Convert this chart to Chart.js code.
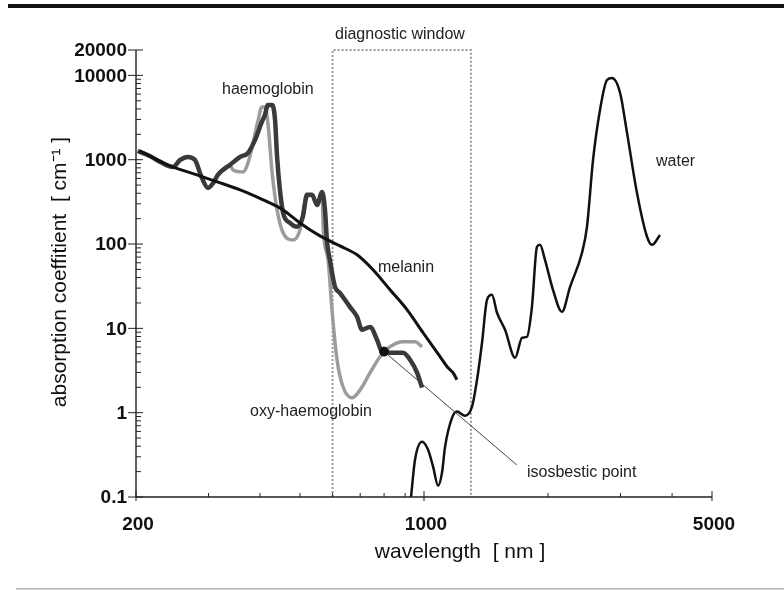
<!DOCTYPE html>
<html>
<head>
<meta charset="utf-8">
<script src="https://cdn.jsdelivr.net/npm/chart.js@4"></script>
<style>
  html, body { margin: 0; padding: 0; background: #fff; }
  canvas { display: block; }
</style>
</head>
<body>
<canvas id="spectrum" width="784" height="590"></canvas>
<script>
// absorption spectra (wavelength in nm, absorption in cm^-1)
const melaninNm  = [204, 242, 281, 315, 358, 407, 455, 500, 559, 625, 688, 752, 827, 910, 995, 1094, 1138, 1176, 1202];
const melaninAbs = [1270, 845, 661, 546, 439, 334, 254, 178, 125, 95, 74.5, 49.5, 28.7, 16.6, 8.87, 4.61, 3.51, 2.98, 2.46];

const haemoNm  = [202, 216, 229, 246, 256, 267, 278, 289, 299, 308, 316, 338, 358, 374, 389, 404, 411, 418, 428, 435, 440, 447, 455, 473, 492, 508, 520, 535, 550, 566, 575, 582, 591, 608, 625, 661, 688, 707, 740, 769, 791, 827, 889, 925, 962, 989];
const haemoAbs = [1270, 1109, 942, 822, 994, 1080, 994, 609, 463, 531, 661, 867, 1080, 1203, 1717, 2805, 3396, 4460, 4460, 2963, 1080, 439, 234, 178, 160, 210, 383, 383, 291, 415, 254, 103, 65, 31.1, 26.4, 18, 13.7, 9.62, 10.4, 7.33, 5.28, 5.14, 5.14, 4.25, 2.98, 1.98];

const oxyNm  = [202, 216, 229, 246, 256, 267, 278, 289, 299, 308, 316, 338, 344, 364, 374, 396, 404, 411, 418, 428, 440, 455, 481, 500, 514, 529, 535, 550, 566, 569, 585, 598, 615, 636, 669, 700, 740, 782, 827, 889, 951, 989];
const oxyAbs = [1270, 1109, 942, 822, 994, 1080, 994, 609, 463, 531, 661, 867, 757, 717, 916, 2963, 4225, 4225, 2729, 698, 254, 136, 112, 147, 308, 383, 383, 291, 415, 160, 65, 16.6, 4.25, 2.03, 1.5, 1.87, 2.98, 4.61, 6.05, 6.94, 6.94, 6.05];

const waterNm  = [930, 951, 989, 1023, 1052, 1082, 1106, 1125, 1170, 1202, 1258, 1308, 1345, 1383, 1422, 1462, 1504, 1573, 1664, 1730, 1778, 1828, 1880, 1912, 1966, 2056, 2162, 2262, 2418, 2486, 2572, 2674, 2780, 2860, 2992, 3110, 3288, 3478, 3576, 3740];
const waterAbs = [0.1, 0.277, 0.453, 0.364, 0.229, 0.136, 0.195, 0.396, 0.873, 1.03, 0.921, 1.18, 2.46, 6.75, 21.8, 25, 15.3, 9.62, 4.48, 7.74, 7.95, 18, 92.7, 97.9, 65, 28.7, 15.7, 31.1, 78.7, 160, 995, 3890, 8810, 9310, 6190, 2080, 404, 122, 97.9, 128];

// diagnostic window box and isosbestic point
const windowNm  = [600, 600, 1300, 1300];
const windowAbs = [0.1, 20000, 20000, 0.1];
const isoNm  = [800];
const isoAbs = [5.3];
const isoLeaderNm  = [800, 1680];
const isoLeaderAbs = [5.3, 0.24];

// axis ticks
const xMajor = [200, 1000, 5000];
const xMinor = [300, 400, 500, 600, 700, 800, 900, 2000, 3000, 4000];
const yMajor = [0.1, 1, 10, 100, 1000, 10000, 20000];
const yMajorLabels = ['0.1', '1', '10', '100', '1000', '10000', '20000'];

function pts(xs, ys) {
    return xs.map((v, i) => ({ x: v, y: ys[i] }));
}

const FONT = "'Liberation Sans', Arial, sans-serif";

const axisPlugin = {
    id: 'axisPlugin',
    afterDatasetsDraw(chart) {
        const ctx = chart.ctx;
        const x = chart.scales.x, y = chart.scales.y;
        const left = x.getPixelForValue(200), right = x.getPixelForValue(5000);
        const bottom = y.getPixelForValue(0.1), top = y.getPixelForValue(20000);
        ctx.save();

        // page rules
        ctx.fillStyle = '#111';
        ctx.fillRect(8, 4, 776, 4);
        ctx.fillStyle = '#b0b0b0';
        ctx.fillRect(16, 588, 768, 1.5);

        // axis lines
        ctx.strokeStyle = '#222';
        ctx.lineWidth = 1.4;
        ctx.beginPath();
        ctx.moveTo(left, top);
        ctx.lineTo(left, bottom);
        ctx.lineTo(right, bottom);
        ctx.stroke();

        ctx.lineWidth = 1;
        ctx.beginPath();
        // y ticks
        yMajor.forEach(v => {
            const py = y.getPixelForValue(v);
            ctx.moveTo(left - 8, py); ctx.lineTo(left + 7, py);
        });
        for (let d = 0.1; d < 10000; d *= 10) {
            for (let k = 2; k <= 9; k++) {
                const py = y.getPixelForValue(d * k);
                ctx.moveTo(left, py); ctx.lineTo(left + 5, py);
            }
        }
        // x ticks
        xMajor.forEach(v => {
            const px = x.getPixelForValue(v);
            ctx.moveTo(px, bottom - 6); ctx.lineTo(px, bottom + 4);
        });
        xMinor.forEach(v => {
            const px = x.getPixelForValue(v);
            ctx.moveTo(px, bottom); ctx.lineTo(px, bottom - 4);
        });
        ctx.stroke();

        // tick labels
        ctx.fillStyle = '#111';
        ctx.font = 'bold 19px ' + FONT;
        ctx.textAlign = 'right';
        ctx.textBaseline = 'middle';
        yMajor.forEach((v, i) => {
            ctx.fillText(yMajorLabels[i], left - 9, y.getPixelForValue(v) + 1);
        });
        ctx.textAlign = 'center';
        xMajor.forEach(v => {
            ctx.fillText(String(v), x.getPixelForValue(v) + 2, bottom + 28);
        });

        // axis titles
        ctx.font = '21px ' + FONT;
        ctx.fillText('wavelength  [ nm ]', 460, 552);
        ctx.save();
        ctx.translate(60, 272);
        ctx.rotate(-Math.PI / 2);
        ctx.fillText('absorption coeffitient  [ cm\u207B\u00B9 ]', 0, 0);
        ctx.restore();

        // annotations
        ctx.font = '16px ' + FONT;
        ctx.fillStyle = '#222';
        ctx.textAlign = 'left';
        ctx.fillText('diagnostic window', 335, 35);
        ctx.fillText('haemoglobin', 222, 90);
        ctx.fillText('melanin', 378, 268);
        ctx.fillText('water', 656, 162);
        ctx.fillText('oxy-haemoglobin', 250, 412);
        ctx.fillText('isosbestic point', 527, 473);

        ctx.restore();
    }
};

new Chart(document.getElementById('spectrum').getContext('2d'), {
    type: 'line',
    data: {
        datasets: [
            {
                label: 'diagnostic window',
                data: pts(windowNm, windowAbs),
                borderColor: '#9a9a9a',
                borderWidth: 2,
                borderDash: [2, 2],
                tension: 0,
                clip: 4,
                order: 6
            },
            {
                label: 'oxy-haemoglobin',
                data: pts(oxyNm, oxyAbs),
                borderColor: '#9c9c9c',
                borderWidth: 3.5,
                cubicInterpolationMode: 'monotone',
                order: 5
            },
            {
                label: 'haemoglobin',
                data: pts(haemoNm, haemoAbs),
                borderColor: '#3a3a3a',
                borderWidth: 4.5,
                cubicInterpolationMode: 'monotone',
                order: 4
            },
            {
                label: 'melanin',
                data: pts(melaninNm, melaninAbs),
                borderColor: '#111',
                borderWidth: 3,
                cubicInterpolationMode: 'monotone',
                order: 3
            },
            {
                label: 'water',
                data: pts(waterNm, waterAbs),
                borderColor: '#111',
                borderWidth: 2.5,
                cubicInterpolationMode: 'monotone',
                order: 2
            },
            {
                label: 'leader',
                data: pts(isoLeaderNm, isoLeaderAbs),
                borderColor: '#444',
                borderWidth: 1,
                tension: 0,
                order: 1
            },
            {
                label: 'isosbestic point',
                data: pts(isoNm, isoAbs),
                showLine: false,
                pointRadius: 4.5,
                pointBackgroundColor: '#111',
                pointBorderColor: '#111',
                order: 0
            }
        ]
    },
    options: {
        responsive: false,
        animation: false,
        layout: { padding: { left: 136, right: 72, top: 50, bottom: 93 } },
        elements: { point: { radius: 0 } },
        plugins: { legend: { display: false }, tooltip: { enabled: false } },
        scales: {
            x: { type: 'logarithmic', min: 200, max: 5000, display: false },
            y: { type: 'logarithmic', min: 0.1, max: 20000, display: false }
        }
    },
    plugins: [axisPlugin]
});
</script>
</body>
</html>
